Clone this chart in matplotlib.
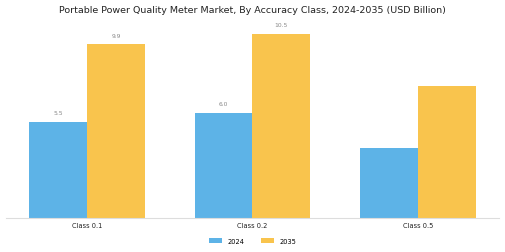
import matplotlib.pyplot as plt
import numpy as np

categories = ['Class 0.1', 'Class 0.2', 'Class 0.5']
values_2024 = [5.5, 6.0, 4.0]
values_2035 = [9.9, 10.5, 7.5]
labels_2024 = ['5.5', '6.0', None]
labels_2035 = ['9.9', '10.5', None]

fig = plt.figure(figsize=(5.05, 2.53), dpi=100)
ax = fig.add_axes([0.012, 0.134, 0.976, 0.798])

x = np.arange(len(categories))
w = 0.35
b1 = ax.bar(x - w / 2, values_2024, w, color='#5DB3E7', label='2024')
b2 = ax.bar(x + w / 2, values_2035, w, color='#F9C44D', label='2035')

# value labels only where the source shows them
for bars, labs in ((b1, labels_2024), (b2, labels_2035)):
    for rect, lab in zip(bars, labs):
        if lab is None:
            continue
        ax.text(rect.get_x() + rect.get_width() / 2, rect.get_height() + 0.38, lab,
                ha='center', va='bottom', fontsize=4.3, color='#888888')

ax.set_xlim(-0.49, 2.49)
ax.set_ylim(0, 11.5)
ax.set_xticks(x)
ax.set_xticklabels(categories, fontsize=4.8, color='#222222')
ax.set_yticks([])
ax.tick_params(axis='x', length=0, pad=3)
for s in ('top', 'right', 'left'):
    ax.spines[s].set_visible(False)
ax.spines['bottom'].set_color('#dddddd')
ax.spines['bottom'].set_linewidth(0.8)

fig.text(0.5, 0.958, 'Portable Power Quality Meter Market, By Accuracy Class, 2024-2035 (USD Billion)',
         ha='center', va='center', fontsize=6.8, color='#222222')

fig.legend(handles=[b1, b2], loc='center', bbox_to_anchor=(0.5, 0.045), ncol=2,
           frameon=False, fontsize=4.8, handlelength=2.0, handleheight=0.8,
           columnspacing=2.5)

fig.savefig('out.png', dpi=100)
